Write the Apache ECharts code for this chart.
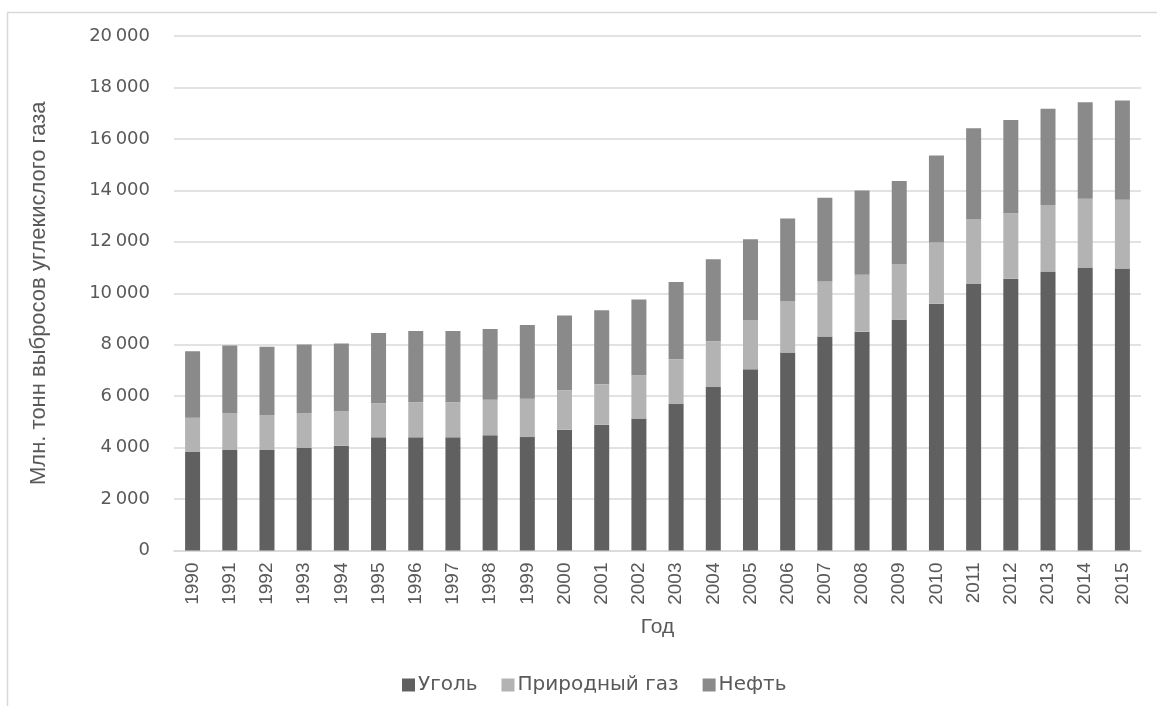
<!DOCTYPE html>
<html>
<head>
<meta charset="utf-8">
<script src="https://cdn.jsdelivr.net/npm/echarts@6/dist/echarts.min.js"></script>
<style>
  html, body { margin: 0; padding: 0; background: #fff; }
  #chart { width: 1157px; height: 706px; }
</style>
</head>
<body>
<div id="chart"></div>
<script>
// Annual CO2 emissions by fuel, million tonnes
const years = ['1990','1991','1992','1993','1994','1995','1996','1997','1998','1999','2000','2001','2002','2003','2004','2005','2006','2007','2008','2009','2010','2011','2012','2013','2014','2015'];
const coal = [3830, 3906, 3906, 3984, 4074, 4398, 4398, 4398, 4480, 4409, 4696, 4891, 5136, 5693, 6354, 7043, 7693, 8320, 8508, 8962, 9593, 10356, 10562, 10848, 11003, 10965];
const naturalGas = [1335, 1416, 1338, 1338, 1326, 1325, 1364, 1364, 1380, 1494, 1530, 1568, 1662, 1739, 1778, 1895, 2007, 2140, 2209, 2169, 2379, 2507, 2545, 2581, 2674, 2673];
const oil = [2585, 2651, 2678, 2690, 2651, 2729, 2768, 2768, 2750, 2864, 2906, 2880, 2957, 3008, 3191, 3163, 3206, 3256, 3281, 3228, 3382, 3549, 3631, 3747, 3743, 3859];
const seriesNames = ['Уголь', 'Природный газ', 'Нефть'];
const yTicks = { min: 0, max: 20000, interval: 2000 };

const textGray = '#595959';
const gridGray = '#d9d9d9';
const sans = "'Liberation Sans', Arial, sans-serif";
const wide = "'DejaVu Sans', sans-serif";

const fmt = v => String(v).replace(/\B(?=(\d{3})+(?!\d))/g, '\u2009');

const chart = echarts.init(document.getElementById('chart'), null, { renderer: 'canvas' });

function bar(name, data, color) {
  return {
    name, type: 'bar', stack: 'total', data,
    barWidth: 15,
    itemStyle: { color },
    emphasis: { disabled: true }
  };
}

chart.setOption({
  animation: false,
  backgroundColor: '#ffffff',
  graphic: [{
    type: 'polyline',
    shape: { points: [[7.5, 706], [7.5, 12.5], [1157, 12.5]] },
    style: { stroke: gridGray, lineWidth: 1.5, fill: null }
  }],
  grid: { left: 174, right: 16, top: 36, bottom: 155.5, containLabel: false },
  legend: {
    left: 397, top: 670,
    itemWidth: 13, itemHeight: 13, itemGap: 24,
    icon: 'rect',
    textStyle: { color: textGray, fontFamily: wide, fontSize: 20, padding: [0, 0, 0, -2] },
    data: seriesNames
  },
  xAxis: {
    type: 'category',
    data: years,
    name: 'Год',
    nameLocation: 'middle',
    nameGap: 66,
    nameTextStyle: { color: textGray, fontFamily: sans, fontSize: 21 },
    axisLine: { lineStyle: { color: gridGray, width: 1.5 } },
    axisTick: { show: false },
    axisLabel: { rotate: 90, margin: 12, color: textGray, fontFamily: sans, fontSize: 19, interval: 0 }
  },
  yAxis: {
    type: 'value',
    min: yTicks.min, max: yTicks.max, interval: yTicks.interval,
    name: 'Млн. тонн выбросов углекислого газа',
    nameLocation: 'middle',
    nameGap: 124,
    nameTextStyle: { color: textGray, fontFamily: sans, fontSize: 22 },
    axisLine: { show: false },
    axisTick: { show: false },
    splitLine: { lineStyle: { color: gridGray, width: 1.5 } },
    axisLabel: { margin: 24, color: textGray, fontFamily: wide, fontSize: 18, formatter: fmt }
  },
  series: [
    bar(seriesNames[0], coal, '#606060'),
    bar(seriesNames[1], naturalGas, '#b3b3b3'),
    bar(seriesNames[2], oil, '#8a8a8a')
  ]
});
</script>
</body>
</html>
